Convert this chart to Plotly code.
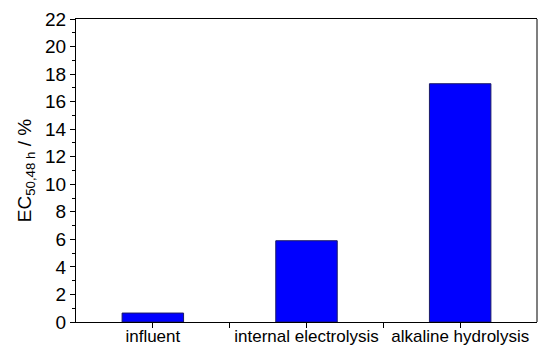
import plotly.graph_objects as go

categories = ["influent", "internal electrolysis", "alkaline hydrolysis"]
ec50_values = [0.65, 5.9, 17.3]
y_ticks = [0, 2, 4, 6, 8, 10, 12, 14, 16, 18, 20, 22]

FONT = "Liberation Sans, Arial, sans-serif"

positions = list(range(len(categories)))

fig = go.Figure(
    go.Bar(
        x=positions,
        y=ec50_values,
        width=0.4,
        marker=dict(color="#0000ff", line=dict(color="#1a1a66", width=1)),
    )
)

fig.update_layout(
    width=545,
    height=347,
    margin=dict(l=76, r=8, t=19, b=25),
    paper_bgcolor="white",
    plot_bgcolor="white",
    showlegend=False,
    font=dict(family=FONT, size=18, color="black"),
    shapes=[
        dict(type="line", xref="paper", yref="paper", x0=1, x1=1, y0=0, y1=1,
             line=dict(color="#555555", width=1.5)),
    ],
)

fig.update_xaxes(
    range=[-0.5, 2.5],
    tickvals=positions,
    ticktext=categories,
    ticks="outside",
    ticklen=5,
    tickcolor="black",
    showline=True,
    linecolor="black",
    linewidth=1,
    mirror=True,
    showgrid=False,
    zeroline=False,
    automargin=False,
    ticklabelstandoff=-6,
    tickfont=dict(family=FONT, size=17),
    minor=dict(tickvals=[0.5, 1.5], ticks="outside", ticklen=5, tickcolor="black"),
)

fig.update_yaxes(
    range=[0, 22],
    tickvals=y_ticks,
    ticks="outside",
    ticklen=5,
    tickcolor="black",
    showline=True,
    linecolor="black",
    linewidth=1,
    showgrid=False,
    zeroline=False,
    automargin=False,
    tickfont=dict(family=FONT, size=19),
    minor=dict(dtick=1, ticks="outside", ticklen=3, tickcolor="black"),
    title=dict(text="EC<sub>50,48 h</sub> / %", font=dict(family=FONT, size=19), standoff=8),
)

fig.write_html("out.html")
